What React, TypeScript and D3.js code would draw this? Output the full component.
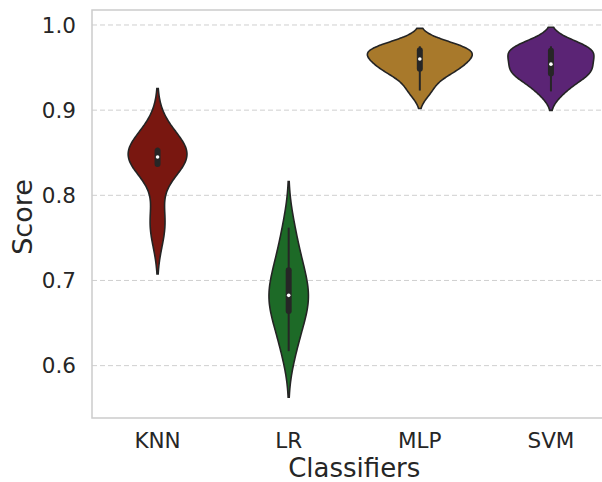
import React, { useEffect, useRef } from "react";
import * as d3 from "d3";

// classifier names and the per-fold scores
const classifiers = ["KNN", "LR", "MLP", "SVM"];
const knnScores = [0.755, 0.778, 0.836, 0.839, 0.843, 0.847, 0.85, 0.853, 0.856, 0.878];
const lrScores = [0.617, 0.64, 0.662, 0.67, 0.68, 0.685, 0.7, 0.716, 0.73, 0.762];
const mlpScores = [0.923, 0.94, 0.948, 0.951, 0.957, 0.963, 0.968, 0.971, 0.973, 0.975];
const svmScores = [0.922, 0.936, 0.942, 0.946, 0.951, 0.957, 0.966, 0.971, 0.973, 0.975];
const colors = ["#791710", "#1d6a27", "#a8792b", "#5b2475"];
const yTicks = [0.6, 0.7, 0.8, 0.9, 1.0];

const W = 602;
const H = 482;

// gaussian kde, scott bandwidth, cut = 2 (like seaborn)
const kde = (vals: number[]) => {
  const n = vals.length;
  const bw = (d3.deviation(vals) as number) * Math.pow(n, -0.2);
  const lo = (d3.min(vals) as number) - 2 * bw;
  const hi = (d3.max(vals) as number) + 2 * bw;
  const grid = d3.range(100).map((i) => lo + ((hi - lo) * i) / 99);
  return grid.map((g) => {
    const dens =
      d3.sum(vals, (v) => Math.exp(-0.5 * ((g - v) / bw) ** 2)) /
      (n * bw * Math.sqrt(2 * Math.PI));
    return { v: g, d: dens };
  });
};

const App = () => {
  const ref = useRef<SVGSVGElement>(null);

  useEffect(() => {
    const svg = d3.select(ref.current);
    svg.selectAll("*").remove();

    const left = 92;
    const top = 10;
    const bottom = 418;
    const right = 616.5;

    const x = d3.scaleBand().domain(classifiers).range([left, right]).padding(0);
    const y = d3.scaleLinear().domain([0.5385, 1.0176]).range([bottom, top]);

    // grid
    svg
      .append("g")
      .selectAll("line")
      .data(yTicks)
      .join("line")
      .attr("x1", left)
      .attr("x2", right)
      .attr("y1", (d) => y(d))
      .attr("y2", (d) => y(d))
      .attr("stroke", "#cfcfcf")
      .attr("stroke-width", 1)
      .attr("stroke-dasharray", "5,3");

    // spines
    svg
      .append("path")
      .attr("d", `M${right},${top}H${left}V${bottom}H${right}`)
      .attr("fill", "none")
      .attr("stroke", "#cccccc")
      .attr("stroke-width", 1.5);

    const allScores = [knnScores, lrScores, mlpScores, svmScores];
    const dens = allScores.map(kde);
    const maxD = d3.max(dens.flat(), (d) => d.d) as number;
    const half = (x.bandwidth() * 0.8) / 2;
    const wScale = d3.scaleLinear().domain([0, maxD]).range([0, half]);

    classifiers.forEach((c, i) => {
      const cx = (x(c) as number) + x.bandwidth() / 2;
      const area = d3
        .area<{ v: number; d: number }>()
        .y((d) => y(d.v))
        .x0((d) => cx - wScale(d.d))
        .x1((d) => cx + wScale(d.d))
        .curve(d3.curveBasis);
      svg
        .append("path")
        .datum(dens[i])
        .attr("d", area)
        .attr("fill", colors[i])
        .attr("stroke", "#242424")
        .attr("stroke-width", 1.6);

      // inner box
      const s = allScores[i].slice().sort(d3.ascending);
      const q1 = d3.quantileSorted(s, 0.25) as number;
      const q3 = d3.quantileSorted(s, 0.75) as number;
      const med = d3.quantileSorted(s, 0.5) as number;
      const iqr = q3 - q1;
      const wLo = d3.min(s.filter((v) => v >= q1 - 1.5 * iqr)) as number;
      const wHi = d3.max(s.filter((v) => v <= q3 + 1.5 * iqr)) as number;
      svg
        .append("line")
        .attr("x1", cx)
        .attr("x2", cx)
        .attr("y1", y(wLo))
        .attr("y2", y(wHi))
        .attr("stroke", "#262626")
        .attr("stroke-width", 2);
      svg
        .append("line")
        .attr("x1", cx)
        .attr("x2", cx)
        .attr("y1", y(q1))
        .attr("y2", y(q3))
        .attr("stroke", "#262626")
        .attr("stroke-width", 6)
        .attr("stroke-linecap", "round");
      svg
        .append("circle")
        .attr("cx", cx)
        .attr("cy", y(med))
        .attr("r", 1.8)
        .attr("fill", "white");
    });

    // y tick labels
    svg
      .append("g")
      .selectAll("text")
      .data(yTicks)
      .join("text")
      .attr("x", 76)
      .attr("y", (d) => y(d))
      .attr("dy", "0.36em")
      .attr("text-anchor", "end")
      .attr("font-size", 21.5)
      .attr("fill", "#262626")
      .text((d) => d3.format(".1f")(d));

    // x tick labels
    svg
      .append("g")
      .selectAll("text")
      .data(classifiers)
      .join("text")
      .attr("x", (d) => (x(d) as number) + x.bandwidth() / 2)
      .attr("y", 448)
      .attr("text-anchor", "middle")
      .attr("font-size", 21.5)
      .attr("fill", "#262626")
      .text((d) => d);

    svg
      .append("text")
      .attr("x", (left + right) / 2)
      .attr("y", 477)
      .attr("text-anchor", "middle")
      .attr("font-size", 26)
      .attr("fill", "#262626")
      .text("Classifiers");

    svg
      .append("text")
      .attr("transform", `translate(32,217) rotate(-90)`)
      .attr("text-anchor", "middle")
      .attr("font-size", 27)
      .attr("fill", "#262626")
      .text("Score");
  }, []);

  return (
    <svg
      ref={ref}
      width={W}
      height={H}
      style={{
        position: "absolute",
        left: 0,
        top: 0,
        background: "white",
        fontFamily: "'DejaVu Sans', sans-serif",
      }}
    ></svg>
  );
};

export default App;
